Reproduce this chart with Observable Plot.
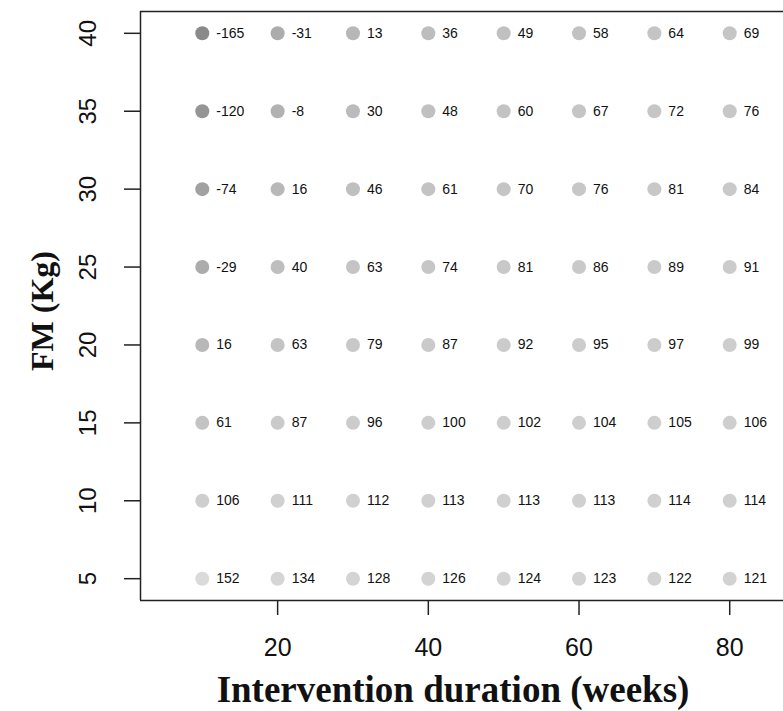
<!DOCTYPE html>
<html>
<head>
<meta charset="utf-8">
<script src="https://cdn.jsdelivr.net/npm/d3@7"></script>
<script src="https://cdn.jsdelivr.net/npm/@observablehq/plot@0.6"></script>
<style>
  html, body { margin: 0; padding: 0; background: #fff; }
</style>
</head>
<body>
<div id="chart"></div>
<script>
// Intervention duration (weeks) along x, fat mass (kg) along y
const durations = [10, 20, 30, 40, 50, 60, 70, 80];
const fatMass = [40, 35, 30, 25, 20, 15, 10, 5];

// One row of values per fat-mass level, one column per duration
const fm40 = [-165, -31, 13, 36, 49, 58, 64, 69];
const fm35 = [-120, -8, 30, 48, 60, 67, 72, 76];
const fm30 = [-74, 16, 46, 61, 70, 76, 81, 84];
const fm25 = [-29, 40, 63, 74, 81, 86, 89, 91];
const fm20 = [16, 63, 79, 87, 92, 95, 97, 99];
const fm15 = [61, 87, 96, 100, 102, 104, 105, 106];
const fm10 = [106, 111, 112, 113, 113, 113, 114, 114];
const fm5 = [152, 134, 128, 126, 124, 123, 122, 121];

const xTicks = [20, 40, 60, 80];
const yTicks = [5, 10, 15, 20, 25, 30, 35, 40];

const rows = [fm40, fm35, fm30, fm25, fm20, fm15, fm10, fm5];
const cells = rows.flatMap((row, i) =>
  row.map((v, j) => ({duration: durations[j], fm: fatMass[i], value: v}))
);

const xDomain = [1.8, 88.2];
const yDomain = [3.6, 41.4];
const axisColor = "#222";
const serif = "'Liberation Serif', 'Times New Roman', serif";

const chart = Plot.plot({
  width: 783,
  height: 711,
  marginLeft: 140,
  marginRight: 0,
  marginTop: 11,
  marginBottom: 111,
  style: {fontFamily: "'Liberation Sans', Arial, sans-serif", background: "#fff", color: "#111"},
  x: {domain: xDomain, range: [140, 791]},
  y: {domain: yDomain},
  color: {type: "linear", domain: [-165, 152], range: ["#8a8a8a", "#dadada"]},
  marks: [
    // box: left, bottom and top edges (the right edge lies past the page)
    Plot.ruleY(yDomain, {stroke: axisColor, strokeWidth: 1.5}),
    Plot.ruleX([xDomain[0]], {stroke: axisColor, strokeWidth: 1.5}),
    Plot.axisX({ticks: xTicks, tickSize: 15, tickPadding: 23, fontSize: 25, stroke: axisColor, strokeWidth: 1.5, label: null}),
    Plot.axisY({ticks: yTicks, tickSize: 16, tickPadding: 29, tickRotate: -90, fontSize: 24, stroke: axisColor, strokeWidth: 1.5, label: null}),
    Plot.dot(cells, {x: "duration", y: "fm", r: 7, fill: "value", stroke: null}),
    Plot.text(cells, {x: "duration", y: "fm", text: d => String(d.value), dx: 14, textAnchor: "start", fontSize: 14, fill: "#111"}),
    Plot.text(["FM (Kg)"], {frameAnchor: "left", dx: -98, dy: 5, rotate: -90, textAnchor: "middle", lineAnchor: "middle", fontSize: 32, fontWeight: "bold", fontFamily: serif, fill: "#111"}),
    Plot.text(["Intervention duration (weeks)"], {frameAnchor: "bottom", dx: -9, dy: 101, fontSize: 37, fontWeight: "bold", fontFamily: serif, fill: "#111"})
  ]
});

document.getElementById("chart").appendChild(chart);
</script>
</body>
</html>
